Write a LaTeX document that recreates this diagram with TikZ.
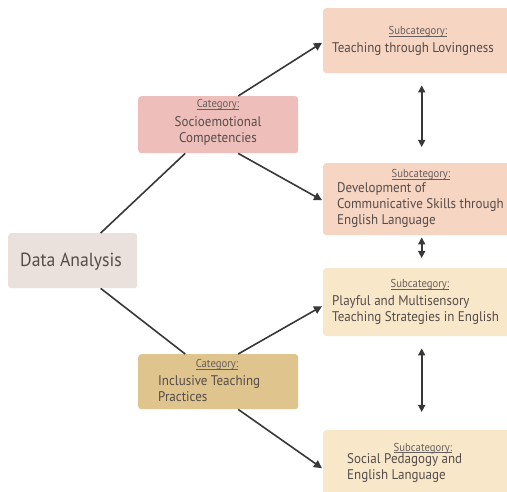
\documentclass[tikz,border=0pt]{standalone}
\usepackage{fontspec}
\setmainfont[FakeStretch=0.93]{PT Sans}
\usetikzlibrary{arrows.meta}
\definecolor{txt}{HTML}{554C4A}
\definecolor{lbl}{HTML}{675F5D}
\definecolor{cda}{HTML}{EBE1DC}
\definecolor{csoc}{HTML}{EEBFBA}
\definecolor{cinc}{HTML}{DFC48D}
\definecolor{cpeach}{HTML}{F6D5C2}
\definecolor{cyel}{HTML}{F8E8C9}
\definecolor{ln}{HTML}{383838}
\tikzset{
  box/.style={rectangle, rounded corners=3pt, draw=none, anchor=north west, inner sep=0pt},
  body/.style={text=txt, font=\fontsize{14}{16}\selectfont, inner sep=0pt, align=left, anchor=north west},
  bodyc/.style={text=txt, font=\fontsize{14}{16}\selectfont, inner sep=0pt, align=center, anchor=north},
  lab/.style={text=lbl, font=\fontsize{11.5}{13}\selectfont, inner sep=0pt, anchor=base},
  conn/.style={draw=ln, line width=1.6pt},
  arr/.style={conn, -{Triangle[length=8pt,width=8pt]}},
  darr/.style={conn, {Triangle[length=7pt,width=7pt]}-{Triangle[length=7pt,width=7pt]}}
}
\newcommand{\ulab}[1]{\underline{\smash{#1}}}
\begin{document}
\begin{tikzpicture}[x=1pt,y=-1pt]
\useasboundingbox (0,0) rectangle (507,492);
\clip (0,0) rectangle (507,492);
\fill[white] (0,0) rectangle (507,492);
% boxes
\node[box, fill=cda, minimum width=129pt, minimum height=55pt] (da) at (8,233) {};
\node[box, fill=csoc, minimum width=160pt, minimum height=57pt] (soc) at (138,96) {};
\node[box, fill=cinc, minimum width=160pt, minimum height=55pt] (inc) at (138,354) {};
\node[box, fill=cpeach, minimum width=190pt, minimum height=65pt] (s1) at (323,8) {};
\node[box, fill=cpeach, minimum width=190pt, minimum height=72pt] (s2) at (323,163) {};
\node[box, fill=cyel, minimum width=190pt, minimum height=68pt] (s3) at (323,268) {};
\node[box, fill=cyel, minimum width=190pt, minimum height=66pt] (s4) at (323,430) {};
% texts
\node[text=txt, font=\fontsize{19}{22}\selectfont, inner sep=0pt, anchor=base] (tda) at (71,267) {Data Analysis};
\node[lab] (lsoc) at (218,108) {\ulab{Category:}};
\node[bodyc] (tsoc) at (218,116) {Socioemotional\\Competencies};
\node[lab] (linc) at (217,368) {\ulab{Category:}};
\node[body] (tinc) at (158,375) {Inclusive Teaching\\Practices};
\node[lab] (ls1) at (418,35) {\ulab{Subcategory:}};
\node[body] (ts1) at (332,42) {Teaching through Lovingness};
\node[lab] (ls2) at (421,178) {\ulab{Subcategory:}};
\node[body] (ts2) at (337,182) {Development of\\Communicative Skills through\\English Language};
\node[lab] (ls3) at (420,288) {\ulab{Subcategory:}};
\node[body] (ts3) at (332,295) {Playful and Multisensory\\Teaching Strategies in English};
\node[lab] (ls4) at (423,451) {\ulab{Subcategory:}};
\node[body] (ts4) at (347,453) {Social Pedagogy and\\English Language};
% connectors
\draw[conn] ([xshift=28pt]da.north) -- ([xshift=-33pt]soc.south);
\draw[conn] ([xshift=28pt]da.south) -- ([xshift=-33pt]inc.north);
\draw[arr] ([xshift=20pt]soc.north) -- ([yshift=-2pt,xshift=-1pt]s1.west);
\draw[arr] ([xshift=20pt]soc.south) -- ([yshift=-1pt,xshift=-1pt]s2.west);
\draw[arr] ([xshift=20pt]inc.north) -- ([yshift=-4pt,xshift=-1pt]s3.west);
\draw[arr] ([xshift=20pt]inc.south) -- ([yshift=-5pt,xshift=-1pt]s4.west);
\draw[darr, shorten <=12pt, shorten >=16pt] ([xshift=3.5pt]s1.south) -- ([xshift=3.5pt]s2.north);
\draw[darr, shorten <=2pt, shorten >=10pt] ([xshift=3.5pt]s2.south) -- ([xshift=3.5pt]s3.north);
\draw[darr, shorten <=12pt, shorten >=18pt] ([xshift=3.5pt]s3.south) -- ([xshift=3.5pt]s4.north);
\end{tikzpicture}
\end{document}
